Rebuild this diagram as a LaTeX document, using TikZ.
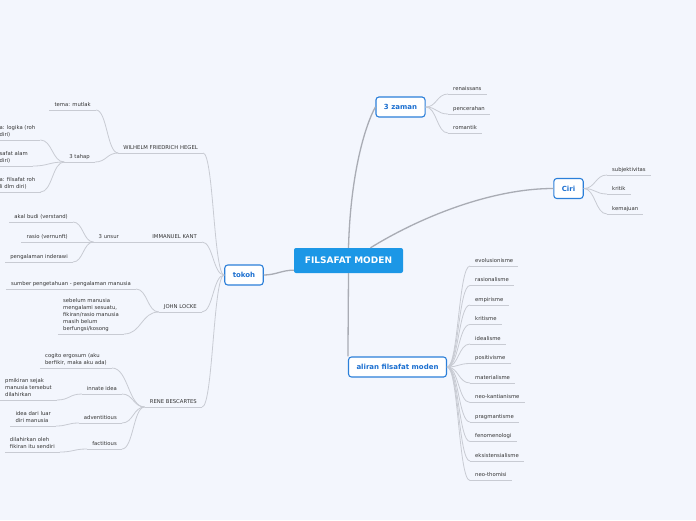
\documentclass[tikz,border=0pt]{standalone}
\usepackage{fontspec}
\setmainfont{DejaVu Sans}
\usetikzlibrary{calc}

\definecolor{bgcol}{HTML}{F3F6FD}
\definecolor{rootblue}{HTML}{1C97E6}
\definecolor{topicblue}{HTML}{2B7FD9}
\definecolor{topictext}{HTML}{1B6FD0}
\definecolor{leafgray}{HTML}{333333}
\definecolor{linegray}{HTML}{C8CBD3}
\definecolor{maingray}{HTML}{A9ACB4}

\newcommand{\leaffont}{\fontsize{5.3}{7}\selectfont}

\begin{document}
\begin{tikzpicture}[x=1pt, y=-1pt]

	% Define node styles
	\tikzstyle{leaf line} = [draw=linegray, line width=0.8pt]
	\tikzstyle{main line} = [draw=maingray, line width=1.3pt]
	\tikzstyle{root} = [fill=rootblue, rounded corners=2pt, text=white, font=\bfseries\fontsize{9}{10}\selectfont, minimum width=109pt, minimum height=25pt]
	\tikzstyle{topic} = [draw=topicblue, line width=1.1pt, fill=white, rounded corners=3pt, text=topictext, font=\bfseries\fontsize{7}{8}\selectfont, inner xsep=8pt, minimum height=20pt]
	\tikzstyle{leaf} = [font=\leaffont, text=leafgray, align=left, inner xsep=5pt, inner ysep=2.2pt, text depth=1.2pt, append after command={(\tikzlastnode.south west) edge[leaf line] (\tikzlastnode.south east)}]

	\fill[bgcol] (0,0) rectangle (696,520);
	\useasboundingbox (0,0) rectangle (696,520);

	% Place main nodes
	\node[root] (fm) at (348.5,260.5) {FILSAFAT MODEN};
	\node[topic] (zaman) at (400.5,107) {3 zaman};
	\node[topic] (ciri) at (568.5,188.5) {Ciri};
	\node[topic] (aliran) at (397.5,367) {aliran filsafat moden};
	\node[topic] (tokoh) at (244,275) {tokoh};

	% Place leaves, left side
	\node[leaf, anchor=south east] (hegel) at (203,153) {WILHELM FRIEDRICH HEGEL};
	\node[leaf, anchor=south east] (kant) at (202,242) {IMMANUEL KANT};
	\node[leaf, anchor=south east] (locke) at (202,312) {JOHN LOCKE};
	\node[leaf, anchor=south east] (bescartes) at (202,407) {RENE BESCARTES};

	\node[leaf, anchor=south east] (tema) at (96,110) {tema: mutlak};
	\node[leaf, anchor=south east] (tahap) at (95,162) {3 tahap};
	\node[leaf, anchor=south west] (tahapa) at (-5.5,140) {a: logika (roh\\diri)};
	\node[leaf, anchor=south west] (tahapb) at (-5.5,166) {safat alam\\diri)};
	\node[leaf, anchor=south west] (tahapc) at (-5.5,192) {a: filsafat roh\\li dlm diri)};

	\node[leaf, anchor=south east] (unsur) at (124,242) {3 unsur};
	\node[leaf, anchor=south east] (akal) at (73,222) {akal budi (verstand)};
	\node[leaf, anchor=south east] (rasio) at (73,242) {rasio (vernunft)};
	\node[leaf, anchor=south east] (indera) at (73,262) {pengalaman inderawi};

	\node[leaf, anchor=south east] (sumber) at (136,289) {sumber pengetahuan - pengalaman manusia};
	\node[leaf, anchor=south east] (sebelum) at (124,334) {sebelum manusia\\mengalami sesuatu,\\fikiran/rasio manusia\\masih belum\\berfungsi/kosong};

	\node[leaf, anchor=south east] (cogito) at (112,368) {cogito ergosum (aku\\berfikir, maka aku ada)};
	\node[leaf, anchor=south east] (innate) at (122,394) {innate idea};
	\node[leaf, anchor=south east] (advent) at (122,423) {adventitious};
	\node[leaf, anchor=south east] (factit) at (122,449) {factitious};
	\node[leaf, anchor=south east] (lahir) at (57,400) {pmikiran sejak\\manusia tersebut\\dilahirkan};
	\node[leaf, anchor=south east] (luar) at (56,426) {idea dari luar\\diri manusia};
	\node[leaf, anchor=south east] (sendiri) at (60,452) {dilahirkan oleh\\fikiran itu sendiri};

	% Place leaves, right side
	\node[leaf, anchor=south west] (renaissans) at (448,94) {renaissans};
	\node[leaf, anchor=south west] (pencerahan) at (448,114) {pencerahan};
	\node[leaf, anchor=south west] (romantik) at (448,133) {romantik};

	\node[leaf, anchor=south west] (subjektif) at (607,175) {subjektivitas};
	\node[leaf, anchor=south west] (kritik) at (607,194) {kritik};
	\node[leaf, anchor=south west] (kemajuan) at (607,214) {kemajuan};

	\foreach \name [count=\i from 0] in {evolusionisme, rasionalisme, empirisme, kritisme, idealisme, positivisme, materialisme, neo-kantianisme, pragmantisme, fenomenologi, eksistensialisme, neo-thomisi}
		\node[leaf, anchor=south west] (al\i) at (470,266+19.5*\i) {\name};

	% Draw main connectors
	\draw[main line] (fm.north) .. controls +(2,-75) and +(-10,18) .. (zaman.west);
	\draw[main line] (fm.30) .. controls +(45,-28) and +(-65,0) .. (ciri.west);
	\draw[main line] (fm.south) -- (aliran.north west);
	\draw[main line] (fm.190) to[out=180,in=0] (tokoh.east);

	% Draw leaf connectors
	\foreach \source/\dest in {
		tokoh.west/hegel.south east,
		tokoh.west/kant.south east,
		tokoh.west/locke.south east,
		tokoh.west/bescartes.south east,
		hegel.south west/tema.south east,
		hegel.south west/tahap.south east,
		tahap.south west/tahapa.south east,
		tahap.south west/tahapb.south east,
		tahap.south west/tahapc.south east,
		kant.south west/unsur.south east,
		unsur.south west/akal.south east,
		unsur.south west/rasio.south east,
		unsur.south west/indera.south east,
		locke.south west/sumber.south east,
		locke.south west/sebelum.south east,
		bescartes.south west/cogito.south east,
		bescartes.south west/innate.south east,
		bescartes.south west/advent.south east,
		bescartes.south west/factit.south east,
		innate.south west/lahir.south east,
		advent.south west/luar.south east,
		factit.south west/sendiri.south east,
		zaman.east/renaissans.south west,
		zaman.east/pencerahan.south west,
		zaman.east/romantik.south west,
		ciri.east/subjektif.south west,
		ciri.east/kritik.south west,
		ciri.east/kemajuan.south west}
	\draw[leaf line] let \p1=(\source), \p2=(\dest) in
		(\p1) .. controls ({(\x1+\x2)/2},\y1) and ({(\x1+\x2)/2},\y2) .. (\p2);

	\foreach \i in {0,...,11}
	\draw[leaf line] let \p1=(aliran.east), \p2=(al\i.south west) in
		(\p1) .. controls ({(\x1+\x2)/2},\y1) and ({(\x1+\x2)/2},\y2) .. (\p2);

\end{tikzpicture}
\end{document}
